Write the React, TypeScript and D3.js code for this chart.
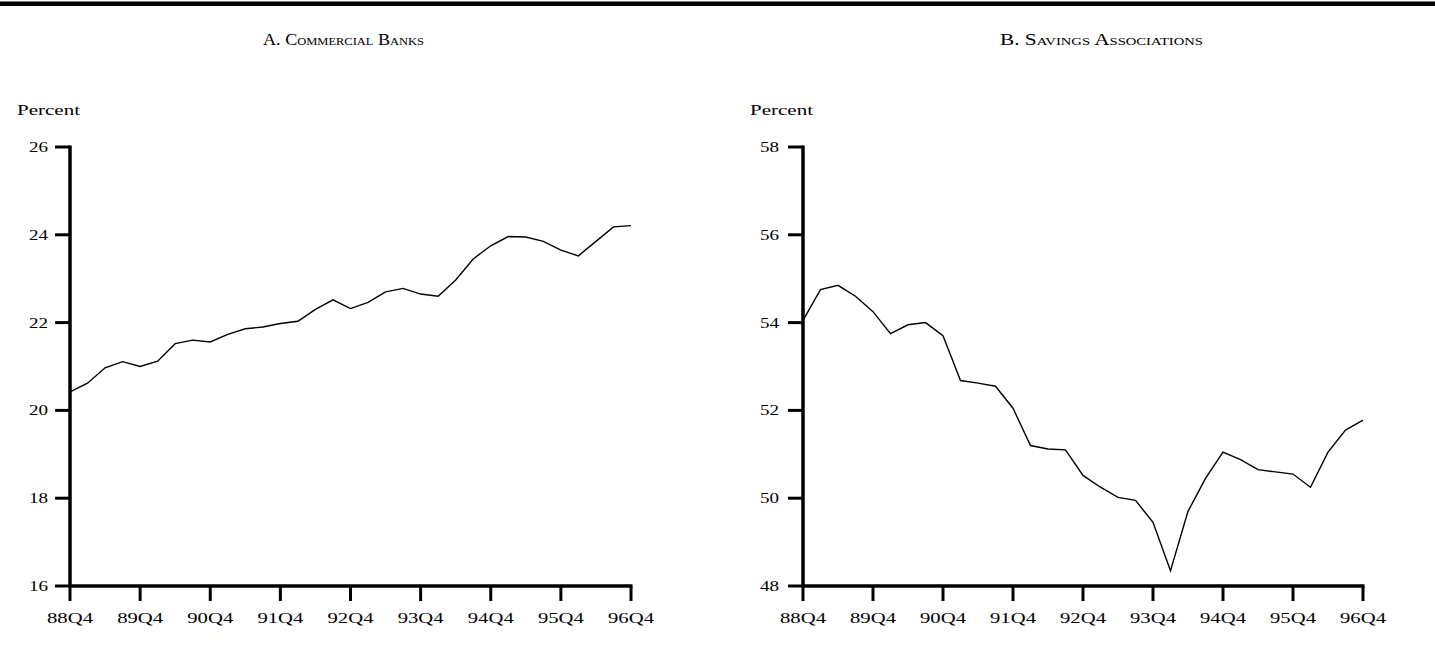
import React from "react";
import * as d3 from "d3";

// ---- data ----
const quarterTickLabels = ["88Q4", "89Q4", "90Q4", "91Q4", "92Q4", "93Q4", "94Q4", "95Q4", "96Q4"];
const quarterCount = 33; // 88Q4 .. 96Q4 quarterly

const commercialBanks = [
  20.42, 20.62, 20.97, 21.11, 21.0, 21.12, 21.52, 21.6, 21.56, 21.73, 21.86,
  21.9, 21.98, 22.03, 22.3, 22.52, 22.32, 22.46, 22.7, 22.78, 22.65, 22.6,
  22.97, 23.45, 23.75, 23.96, 23.95, 23.85, 23.65, 23.52, 23.85, 24.18, 24.21,
];
const savingsAssociations = [
  54.05, 54.75, 54.85, 54.6, 54.25, 53.75, 53.95, 54.0, 53.7, 52.68, 52.62,
  52.55, 52.05, 51.2, 51.12, 51.1, 50.52, 50.25, 50.02, 49.95, 49.45, 48.35,
  49.7, 50.45, 51.05, 50.88, 50.65, 50.6, 50.55, 50.25, 51.05, 51.55, 51.78,
];
const commercialTicks = [16, 18, 20, 22, 24, 26];
const savingsTicks = [48, 50, 52, 54, 56, 58];

const W = 1435;
const H = 645;
const AXIS_FONT = "'Liberation Serif', 'Times New Roman', serif";

type PanelProps = {
  values: number[];
  ticks: number[];
  x0: number;
  x1: number;
  yTop: number;
  yBottom: number;
  labelGap: number;
  percentX: number;
};

function Panel({ values, ticks, x0, x1, yTop, yBottom, labelGap, percentX }: PanelProps) {
  const x = d3.scaleLinear().domain([0, quarterCount - 1]).range([x0, x1]);
  const y = d3
    .scaleLinear()
    .domain([ticks[0], ticks[ticks.length - 1]])
    .range([yBottom, yTop]);
  const line = d3
    .line<number>()
    .x((_, i) => x(i))
    .y((d) => y(d));
  const xTickIdx = quarterTickLabels.map((_, i) => i * 4);
  return (
    <g>
      <text
        x={percentX}
        y={115}
        fontFamily={AXIS_FONT}
        fontSize={14}
        textLength={63}
        lengthAdjust="spacingAndGlyphs"
      >
        Percent
      </text>
      <line x1={x0} x2={x0} y1={yTop - 1.5} y2={yBottom} stroke="#000" strokeWidth={3.5} />
      <line x1={x0} x2={x1 + 1.5} y1={yBottom} y2={yBottom} stroke="#000" strokeWidth={3.5} />
      {ticks.map((t) => (
        <g key={t}>
          <line x1={x0 - 15} x2={x0} y1={y(t)} y2={y(t)} stroke="#000" strokeWidth={3} />
          <text
            x={x0 - labelGap}
            y={y(t)}
            dy="0.35em"
            textAnchor="end"
            fontFamily={AXIS_FONT}
            fontSize={14}
            textLength={19}
            lengthAdjust="spacingAndGlyphs"
          >
            {t}
          </text>
        </g>
      ))}
      {xTickIdx.map((qi, k) => (
        <g key={qi}>
          <line x1={x(qi)} x2={x(qi)} y1={yBottom} y2={yBottom + 15} stroke="#000" strokeWidth={3} />
          <text
            x={x(qi)}
            y={yBottom + 37}
            textAnchor="middle"
            fontFamily={AXIS_FONT}
            fontSize={14}
            textLength={46}
            lengthAdjust="spacingAndGlyphs"
          >
            {quarterTickLabels[k]}
          </text>
        </g>
      ))}
      <path d={line(values) || ""} fill="none" stroke="#000" strokeWidth={1.4} />
    </g>
  );
}

export default function App() {
  return (
    <svg
      width={W}
      height={H}
      viewBox={`0 0 ${W} ${H}`}
      style={{ position: "absolute", left: 0, top: 0, background: "#fff" }}
    >
      <rect x={0} y={0} width={W} height={H} fill="#fff" />
      <rect x={0} y={1.5} width={W} height={4.5} fill="#000" />
      <text
        x={263}
        y={45}
        fontFamily={"'Liberation Serif', serif"}
        fontSize={16}
        style={{ fontVariant: "small-caps" }}
        textLength={161}
        lengthAdjust="spacingAndGlyphs"
      >
        A. Commercial Banks
      </text>
      <text
        x={1000}
        y={45}
        fontFamily={"'Liberation Serif', serif"}
        fontSize={16}
        style={{ fontVariant: "small-caps" }}
        textLength={203}
        lengthAdjust="spacingAndGlyphs"
      >
        B. Savings Associations
      </text>
      <Panel
        values={commercialBanks}
        ticks={commercialTicks}
        x0={70}
        x1={631}
        yTop={147}
        yBottom={586}
        labelGap={22}
        percentX={17}
      />
      <Panel
        values={savingsAssociations}
        ticks={savingsTicks}
        x0={803}
        x1={1363}
        yTop={147}
        yBottom={586}
        labelGap={24}
        percentX={750}
      />
    </svg>
  );
}
